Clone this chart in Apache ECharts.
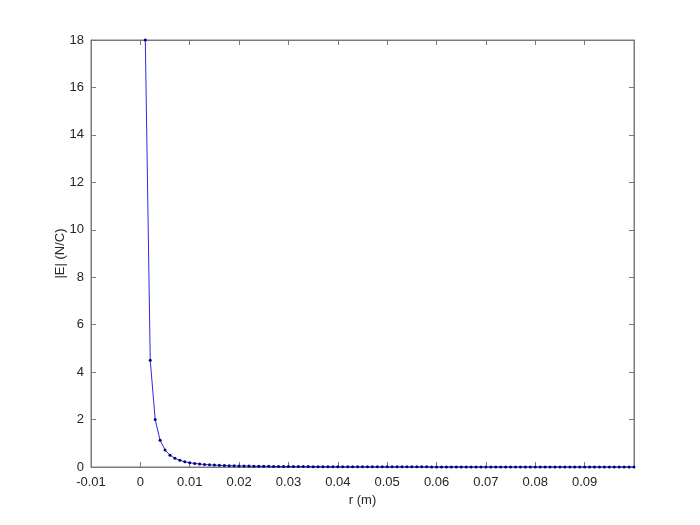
<!DOCTYPE html>
<html>
<head>
<meta charset="utf-8">
<script src="https://cdn.jsdelivr.net/npm/echarts@6/dist/echarts.min.js"></script>
<style>html,body{margin:0;padding:0;background:#fff}#c{width:700px;height:525px}</style>
</head>
<body>
<div id="c"></div>
<script>
var rValues = [0.001,0.002,0.003,0.004,0.005,0.006,0.007,0.008,0.009,0.010,
0.011,0.012,0.013,0.014,0.015,0.016,0.017,0.018,0.019,0.020,
0.021,0.022,0.023,0.024,0.025,0.026,0.027,0.028,0.029,0.030,
0.031,0.032,0.033,0.034,0.035,0.036,0.037,0.038,0.039,0.040,
0.041,0.042,0.043,0.044,0.045,0.046,0.047,0.048,0.049,0.050,
0.051,0.052,0.053,0.054,0.055,0.056,0.057,0.058,0.059,0.060,
0.061,0.062,0.063,0.064,0.065,0.066,0.067,0.068,0.069,0.070,
0.071,0.072,0.073,0.074,0.075,0.076,0.077,0.078,0.079,0.080,
0.081,0.082,0.083,0.084,0.085,0.086,0.087,0.088,0.089,0.090,
0.091,0.092,0.093,0.094,0.095,0.096,0.097,0.098,0.099,0.100];
var eValues = [18,4.5,2,1.125,0.72,0.5,0.367,0.281,0.222,0.18,
0.149,0.125,0.107,0.092,0.08,0.070,0.062,0.056,0.050,0.045,
0.041,0.037,0.034,0.031,0.029,0.027,0.025,0.023,0.021,0.020,
0.019,0.018,0.017,0.016,0.015,0.014,0.013,0.012,0.012,0.011,
0.011,0.010,0.010,0.009,0.009,0.009,0.008,0.008,0.007,0.007,
0.0069,0.0067,0.0064,0.0062,0.0060,0.0057,0.0055,0.0054,0.0052,0.0050,
0.0048,0.0047,0.0045,0.0044,0.0043,0.0041,0.0040,0.0039,0.0038,0.0037,
0.0036,0.0035,0.0034,0.0033,0.0032,0.0031,0.0030,0.0030,0.0029,0.0028,
0.0027,0.0027,0.0026,0.0026,0.0025,0.0024,0.0024,0.0023,0.0023,0.0022,
0.0022,0.0021,0.0021,0.0020,0.0020,0.0020,0.0019,0.0019,0.0018,0.0018];
var xLabel = 'r (m)';
var yLabel = '|E| (N/C)';

var data = rValues.map(function(r,i){return [r,eValues[i]];});
var axisCol = '#7a7a7a';
var txtCol = '#262626';
var font = 'Liberation Sans, Arial, Helvetica, sans-serif';
function fmtX(v){ if (Math.abs(v-0.1)<1e-9) return ''; return String(+v.toFixed(2)); }
var chart = echarts.init(document.getElementById('c'), null, {renderer:'canvas'});
chart.setOption({
  animation:false,
  backgroundColor:'#fff',
  grid:{left:91,right:66,top:40,bottom:58,show:true,borderColor:axisCol,borderWidth:1,backgroundColor:'#fff'},
  xAxis:[{
    type:'value',min:-0.01,max:0.1,interval:0.01,
    name:xLabel,nameLocation:'middle',nameGap:26,
    nameTextStyle:{color:txtCol,fontSize:13,fontFamily:font},
    axisLine:{show:true,onZero:false,lineStyle:{color:axisCol,width:1}},
    axisTick:{show:true,inside:true,length:5,lineStyle:{color:axisCol}},
    axisLabel:{color:txtCol,fontSize:13,fontFamily:font,margin:9,formatter:fmtX,showMaxLabel:false},
    splitLine:{show:false}
  },{
    type:'value',position:'top',min:-0.01,max:0.1,interval:0.01,
    axisLine:{show:true,onZero:false,lineStyle:{color:axisCol,width:1}},
    axisTick:{show:true,inside:true,length:5,lineStyle:{color:axisCol}},
    axisLabel:{show:false},splitLine:{show:false}
  }],
  yAxis:[{
    type:'value',min:0,max:18,interval:2,
    name:yLabel,nameLocation:'middle',nameGap:24,nameMoveOverlap:false,
    nameTextStyle:{color:txtCol,fontSize:13,fontFamily:font},
    axisLine:{show:true,onZero:false,lineStyle:{color:axisCol,width:1}},
    axisTick:{show:true,inside:true,length:5,lineStyle:{color:axisCol}},
    axisLabel:{color:txtCol,fontSize:13,fontFamily:font,margin:7},
    splitLine:{show:false}
  },{
    type:'value',position:'right',min:0,max:18,interval:2,
    axisLine:{show:true,onZero:false,lineStyle:{color:axisCol,width:1}},
    axisTick:{show:true,inside:true,length:5,lineStyle:{color:axisCol}},
    axisLabel:{show:false},splitLine:{show:false}
  }],
  series:[{
    type:'line',data:data,xAxisIndex:0,yAxisIndex:0,
    symbol:'circle',symbolSize:3,showSymbol:true,clip:false,
    lineStyle:{color:'#2a2ae0',width:1},
    itemStyle:{color:'#00007a',borderWidth:0}
  }]
});
</script>
</body>
</html>
